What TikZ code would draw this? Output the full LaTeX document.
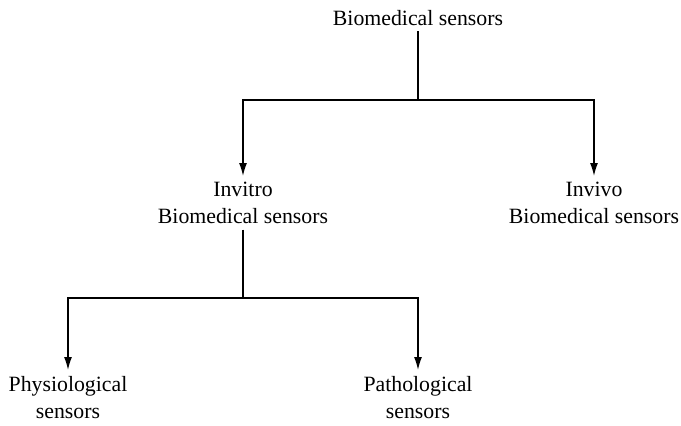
\documentclass[tikz,border=0pt]{standalone}
\usepackage{fontspec}
\setmainfont{Liberation Serif}
\usetikzlibrary{arrows.meta}
\begin{document}
\begin{tikzpicture}[x=1pt,y=-1pt,
  lbl/.style={font=\fontsize{21.8}{27}\selectfont, align=center, inner xsep=0pt, inner ysep=6pt, outer sep=0pt, anchor=north},
  conn/.style={line width=1.3pt},
  arr/.style={conn, -{Latex[length=13pt,width=8pt]}}]
\useasboundingbox (0,0) rectangle (681,426);
\node[lbl] (top) at (418,4) {Biomedical sensors};
\node[lbl] (invitro) at (243,176) {Invitro\\Biomedical sensors};
\node[lbl] (invivo) at (594,176) {Invivo\\Biomedical sensors};
\node[lbl] (phys) at (68,370) {Physiological\\sensors};
\node[lbl] (path) at (418,370) {Pathological\\sensors};
\coordinate (j1) at (418,100);
\coordinate (j2) at (243,298);
\draw[conn] (top.south) -- (j1);
\draw[arr] (j1) -| (invitro.north);
\draw[arr] (j1) -| (invivo.north);
\draw[conn] (invitro.south) -- (j2);
\draw[arr] (j2) -| (phys.north);
\draw[arr] (j2) -| (path.north);
\end{tikzpicture}
\end{document}
